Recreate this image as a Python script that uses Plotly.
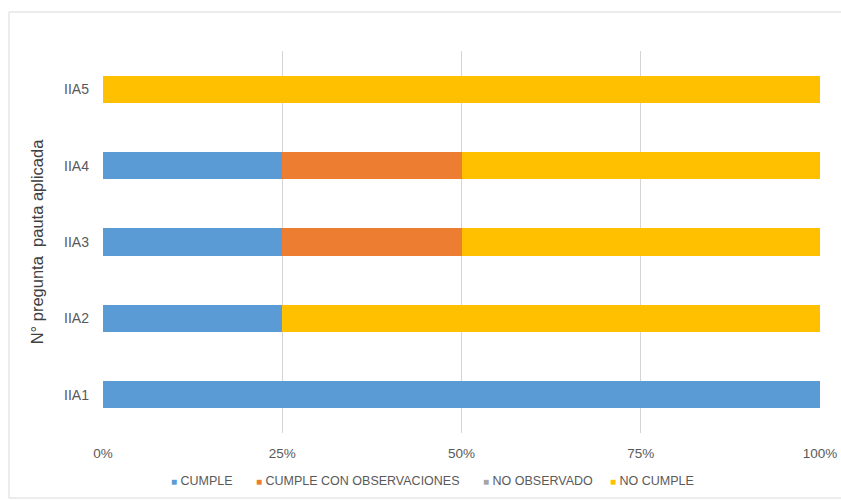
import plotly.graph_objects as go

categories = ["IIA1", "IIA2", "IIA3", "IIA4", "IIA5"]
series_names = ["CUMPLE", "CUMPLE CON OBSERVACIONES", "NO OBSERVADO", "NO CUMPLE"]
cumple = [100, 25, 25, 25, 0]
cumple_obs = [0, 0, 25, 25, 0]
no_observado = [0, 0, 0, 0, 0]
no_cumple = [0, 75, 50, 50, 100]
colors = ["#5B9BD5", "#ED7D31", "#A5A5A5", "#FFC000"]
x_ticks = [0, 25, 50, 75, 100]
x_tick_labels = ["0%", "25%", "50%", "75%", "100%"]

fig = go.Figure()
for name, vals, col in zip(series_names, [cumple, cumple_obs, no_observado, no_cumple], colors):
    fig.add_trace(go.Bar(y=categories, x=vals, name=name, orientation="h",
                         marker=dict(color=col, line=dict(width=0)), showlegend=False))

FONT = "Liberation Sans, Arial, sans-serif"
L, R, T, B = 103, 21, 51, 67
W, H = 841, 500
pw, ph = W - L - R, H - T - B

def px_x(x):
    return (x - L) / pw

def px_y(y):
    return (T + ph - y) / ph

# legend built as annotations (compact Excel-style legend)
legend_x = [169, 254, 481, 608]
annotations = []
for name, col, lx in zip(series_names, colors, legend_x):
    annotations.append(dict(
        xref="paper", yref="paper", x=px_x(lx), y=px_y(481),
        xanchor="left", yanchor="middle", showarrow=False,
        text=f'<span style="color:{col};font-size:10px">■</span> {name}',
        font=dict(family=FONT, size=12.5, color="#595959")))

fig.update_layout(
    width=W, height=H, barmode="stack", bargap=0.645,
    margin=dict(l=L, r=R, t=T, b=B, autoexpand=False),
    paper_bgcolor="white", plot_bgcolor="white",
    font=dict(family=FONT, size=13, color="#595959"),
    showlegend=False,
    xaxis=dict(range=[0, 100], tickvals=x_ticks, ticktext=x_tick_labels,
               showgrid=True, gridcolor="#D4D4D4", gridwidth=1, zeroline=False,
               showline=False, ticks="", automargin=False, ticklabelstandoff=10,
               tickfont=dict(size=13.5, color="#595959")),
    yaxis=dict(categoryorder="array", categoryarray=categories, showgrid=False,
               showline=False, ticks="", ticklabelstandoff=13, automargin=False,
               tickfont=dict(size=14, color="#595959"),
               title=dict(text="N° pregunta  pauta aplicada", standoff=16,
                          font=dict(size=16.5, color="#404040"))),
    annotations=annotations,
    shapes=[dict(type="rect", xref="paper", yref="paper",
                 x0=px_x(9), x1=px_x(845),
                 y0=px_y(498), y1=px_y(12),
                 line=dict(color="#D9D9D9", width=1), layer="below")],
)
fig.write_html("out.html", config={"displayModeBar": False},
               post_script="document.body.style.margin='0';")
